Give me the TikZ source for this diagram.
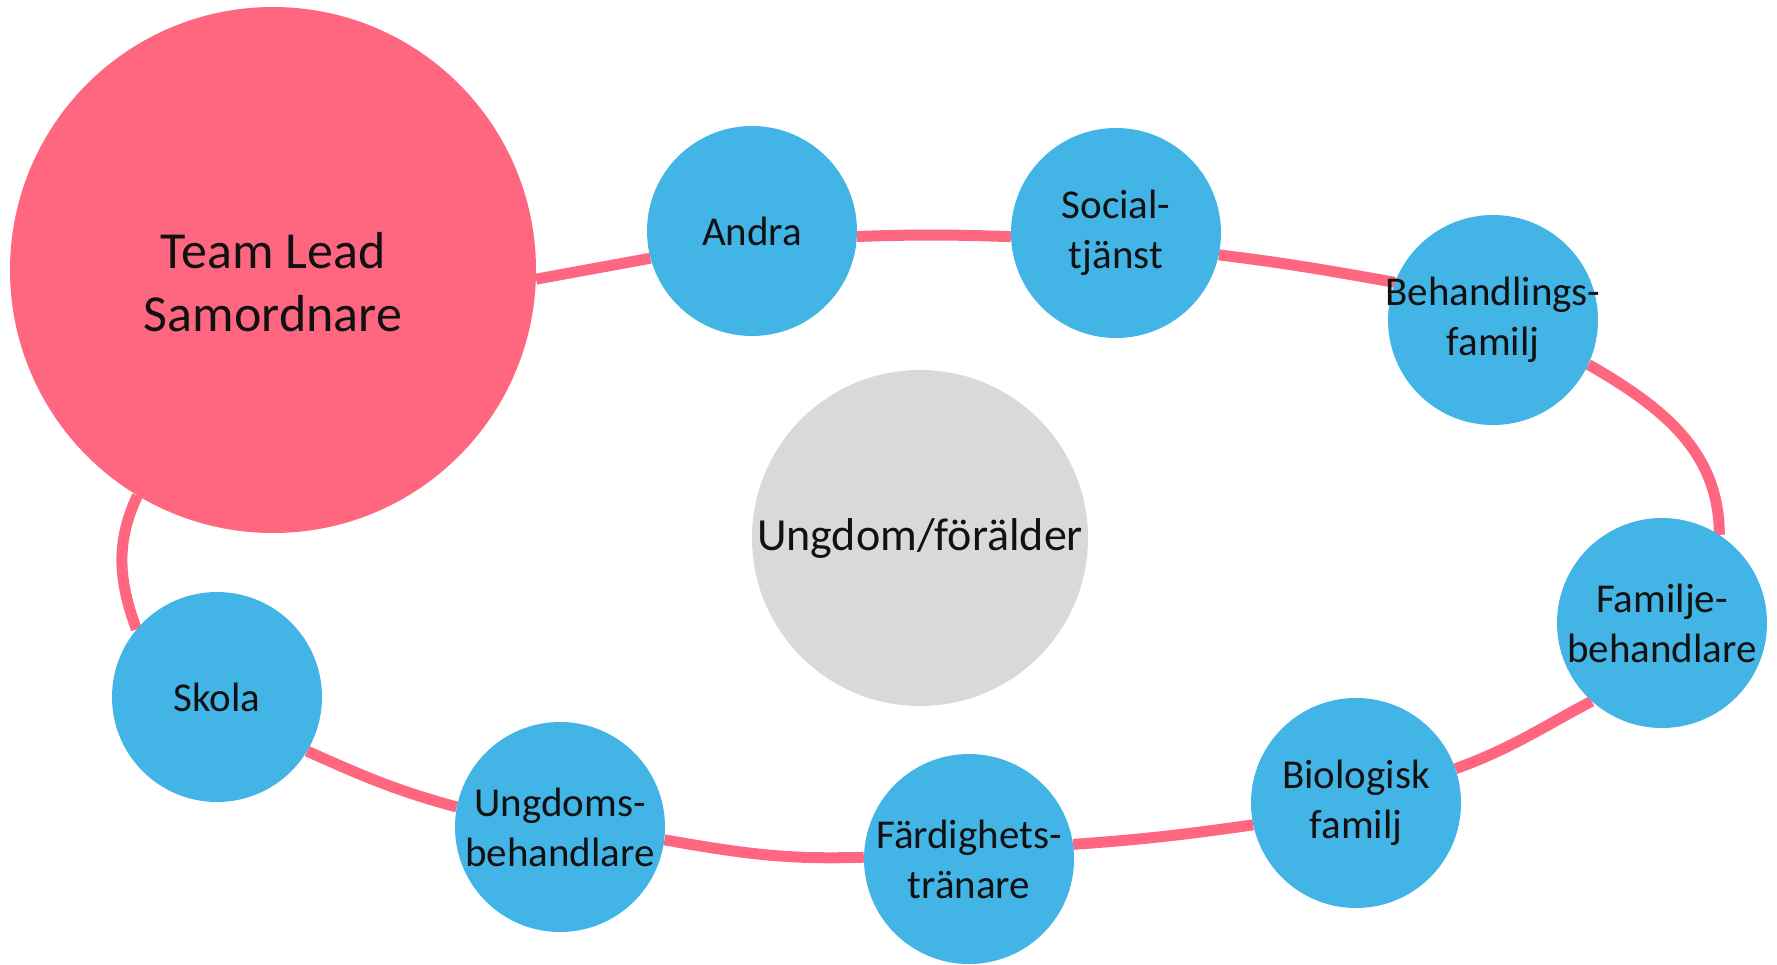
\documentclass[tikz,border=0pt]{standalone}
\usepackage{fontspec}
\setmainfont{Carlito}
\usetikzlibrary{backgrounds}
\definecolor{ringpink}{HTML}{FF6680}
\definecolor{memberblue}{HTML}{42B4E6}
\definecolor{youthgray}{HTML}{D9D9D9}
\definecolor{inktext}{HTML}{111111}
\begin{document}
\begin{tikzpicture}[x=1pt,y=-1pt]
\tikzstyle{member}=[circle,fill=memberblue,inner sep=0pt,minimum size=210pt]
\tikzstyle{membertext}=[font=\fontsize{41}{50}\selectfont,text=inktext,align=center,inner sep=0pt]
\tikzstyle{ring}=[ringpink,line width=11pt]
\useasboundingbox (0,0) rectangle (1777,964);
\path (273,270) node[circle,fill=ringpink,inner sep=0pt,minimum size=526pt,
        label={[membertext,font=\fontsize{52}{63}\selectfont,yshift=-12pt]center:{Team Lead\\Samordnare}}](lead){}
  (752,231) node[member,label={[membertext]center:Andra}](andra){}
  (1116,233) node[member,label={[membertext]center:{Social-\\tjänst}}](social){}
  (1493,320) node[member,label={[membertext]center:{Behandlings-\\familj}}](behfam){}
  (1662,623) node[member,label={[membertext]center:{Familje-\\behandlare}}](fambeh){}
  (1356,803) node[member,label={[membertext]center:{Biologisk\\familj}}](biofam){}
  (969,859) node[member,label={[membertext]center:{Färdighets-\\tränare}}](trainer){}
  (560,827) node[member,label={[membertext]center:{Ungdoms-\\behandlare}}](ungbeh){}
  (217,697) node[member,label={[membertext]center:Skola}](skola){}
  (920,538) node[circle,fill=youthgray,inner sep=0pt,minimum size=336pt,
        label={[membertext,font=\fontsize{46}{55}\selectfont]center:Ungdom/förälder}](youth){};
\begin{scope}[on background layer]
\draw[ring] (lead.-2) -- (andra.195);
\draw[ring] (andra.-3) to[out=2,in=178] (social.182);
\draw[ring] (social.-12) to[out=-7,in=170] (behfam.159);
\draw[ring] (behfam.-25) to[out=-30,in=90] (fambeh.57);
\draw[ring] (fambeh.228) to[out=208,in=20] (biofam.19);
\draw[ring] (biofam.192) to[out=188,in=4] (trainer.8);
\draw[ring] (trainer.179) to[out=182,in=-10] (ungbeh.-7);
\draw[ring] (ungbeh.169) to[out=165,in=-24] (skola.-31);
\draw[ring] (skola.140) to[out=110,in=-115] (lead.239);
\end{scope}
\end{tikzpicture}
\end{document}
